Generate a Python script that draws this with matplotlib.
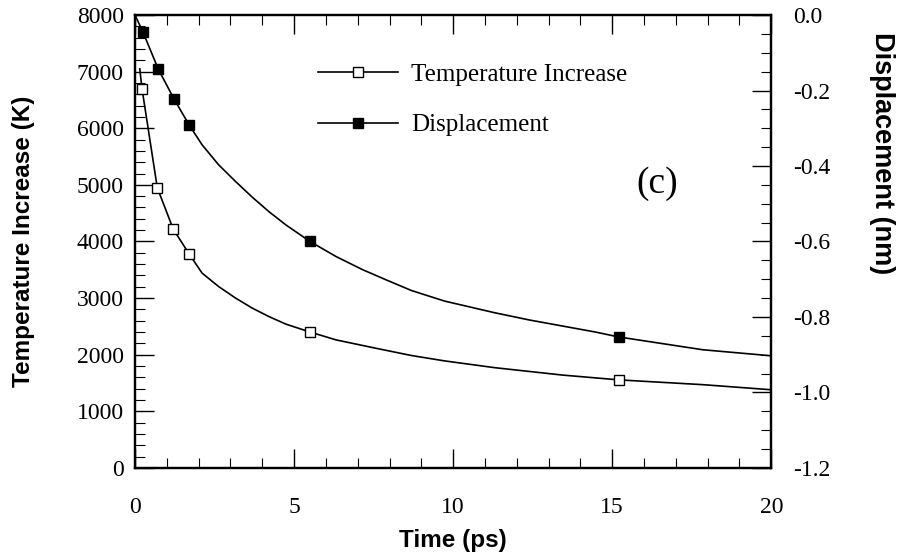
import numpy as np
from matplotlib import pyplot as plt
from matplotlib.ticker import MultipleLocator, FormatStrFormatter

plt.rcParams['axes.unicode_minus'] = False

# curves (Time in ps)
temp_curve_t = [0.15, 0.22, 0.7, 1.2, 1.7, 2.11, 2.63, 3.16, 3.69, 4.21, 4.74, 5.5,
                6.32, 7.6, 8.69, 9.73, 11.31, 13.43, 15.2, 17.85, 20.0]
temp_curve_k = [7050, 6700, 4950, 4220, 3780, 3440, 3203, 3000, 2821, 2673, 2540, 2400,
                2261, 2110, 1985, 1890, 1770, 1640, 1555, 1470, 1380]
temp_mark_t = [0.22, 0.7, 1.2, 1.7, 5.5, 15.2]
temp_mark_k = [6700, 4950, 4220, 3780, 2400, 1555]

disp_curve_t = [0.0, 0.25, 0.73, 1.23, 1.7, 2.11, 2.63, 3.16, 3.69, 4.21, 4.74, 5.5,
                6.32, 7.16, 7.9, 8.69, 9.73, 11.31, 12.39, 13.43, 14.47, 15.2, 17.85, 20.0]
disp_curve_nm = [0.0, -0.045, -0.143, -0.223, -0.291, -0.344, -0.397, -0.441, -0.483,
                 -0.521, -0.556, -0.60, -0.640, -0.675, -0.702, -0.73, -0.758, -0.789,
                 -0.808, -0.824, -0.840, -0.853, -0.887, -0.903]
disp_mark_t = [0.25, 0.73, 1.23, 1.7, 5.5, 15.2]
disp_mark_nm = [-0.045, -0.143, -0.223, -0.291, -0.60, -0.853]

serif = 'Liberation Serif'
sans = 'Liberation Sans'

fig = plt.figure(figsize=(9, 5.57), dpi=100)
ax = fig.add_axes([0.15, 0.16, 0.707, 0.813])
ax2 = ax.twinx()

ax.plot(temp_curve_t, temp_curve_k, color='black', lw=1.2)
ax.plot(temp_mark_t, temp_mark_k, ls='none', marker='s', ms=7,
        mfc='white', mec='black', mew=1.0)
ax2.plot(disp_curve_t, disp_curve_nm, color='black', lw=1.2)
ax2.plot(disp_mark_t, disp_mark_nm, ls='none', marker='s', ms=7,
         mfc='black', mec='black')

ax.set_xlim(0, 20)
ax.set_ylim(0, 8000)
ax2.set_ylim(-1.2, 0.0)

ax.xaxis.set_major_locator(MultipleLocator(5))
ax.xaxis.set_minor_locator(MultipleLocator(1))
ax.yaxis.set_major_locator(MultipleLocator(1000))
ax.yaxis.set_minor_locator(MultipleLocator(200))
ax2.yaxis.set_major_locator(MultipleLocator(0.2))
ax2.yaxis.set_minor_locator(MultipleLocator(0.05))
ax2.yaxis.set_major_formatter(FormatStrFormatter('%.1f'))

ax.tick_params(which='both', direction='in', top=True, labelsize=17)
ax.tick_params(axis='x', pad=21)
ax.tick_params(axis='y', pad=8)
ax.tick_params(which='major', length=14, width=1.0)
ax.tick_params(which='minor', length=7, width=0.8)
ax2.tick_params(which='both', direction='in', labelsize=17, pad=16)
ax2.tick_params(which='major', length=14, width=1.0)
ax2.tick_params(which='minor', length=7, width=0.8)
for a in (ax, ax2):
    for lab in a.get_xticklabels() + a.get_yticklabels():
        lab.set_fontfamily(serif)
    for s in a.spines.values():
        s.set_linewidth(1.6)

ax.set_xlabel('Time (ps)', fontsize=17.5, fontweight='bold', family=sans, labelpad=8)
ax.set_ylabel('Temperature Increase (K)', fontsize=17.5, fontweight='bold', family=sans,
              labelpad=30)
ax2.set_ylabel('Displacement (nm)', fontsize=19.5, fontweight='bold', family=sans,
               rotation=-90, labelpad=46)
ax2.yaxis.label.set_y(0.695)

# legend
h1, = ax.plot([], [], color='black', lw=1.2, marker='s', ms=7, mfc='white', mec='black')
h2, = ax.plot([], [], color='black', lw=1.2, marker='s', ms=7, mfc='black', mec='black')
ax.legend([h1, h2], ['Temperature Increase', 'Displacement'], loc='upper left',
          bbox_to_anchor=(0.288, 0.893), frameon=False, handlelength=3.2, numpoints=1,
          borderpad=0, borderaxespad=0, labelspacing=1.12, handletextpad=0.5,
          prop={'family': serif, 'size': 18})

ax.text(0.82, 0.628, '(c)', transform=ax.transAxes, fontsize=27, family=serif,
        ha='center', va='center')

fig.savefig('out.png', dpi=100)
